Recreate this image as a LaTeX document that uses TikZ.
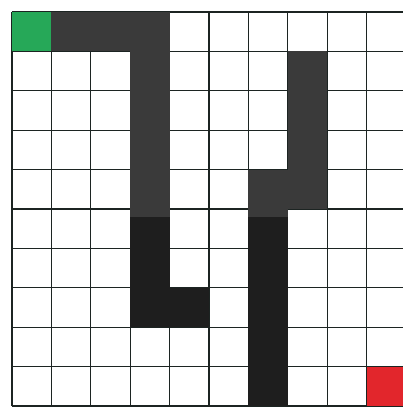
\documentclass[tikz,border=0pt]{standalone}
\usepackage{tikz}
\definecolor{startgreen}{RGB}{38, 168, 88}
\definecolor{goalred}{RGB}{226, 38, 44}
\definecolor{wallgray}{RGB}{58, 58, 58}
\definecolor{walldark}{RGB}{30, 30, 30}
\definecolor{gridink}{RGB}{28, 36, 34}

% wall cells as column/row, row 0 at the top
\newcommand{\wallcells}{1/0,2/0,3/0,3/1,3/2,3/3,3/4,3/5,3/6,3/7,4/7,7/1,7/2,7/3,7/4,6/4,6/5,6/6,6/7,6/8,6/9}

\begin{document}
\begin{tikzpicture}[
    x=1cm, y=1cm,
    gridlines/.style={draw=gridink, line width=0.9pt},
    wall/.style={fill=wallgray},
    walllow/.style={fill=walldark},
    startcell/.style={fill=startgreen},
    goalcell/.style={fill=goalred}
  ]
    \useasboundingbox (-0.305,-0.279) rectangle (9.923,10.305);
    \clip (-0.305,-0.279) rectangle (9.923,10.305);
    \fill[white] (-0.305,-0.279) rectangle (9.923,10.305);

    \draw[gridlines] (0,0) grid (10,10);

    \foreach \c/\r in \wallcells
      \path[wall] (\c,9-\r) rectangle ++(1,1);
    \begin{scope}
      \clip (-1,-1) rectangle (11,4.772);
      \foreach \c/\r in \wallcells
        \path[walllow] (\c,9-\r) rectangle ++(1,1);
    \end{scope}

    \path[startcell] (0,9) rectangle (1,10);
    \path[goalcell] (9,0) rectangle (10,1);
  \end{tikzpicture}
\end{document}
